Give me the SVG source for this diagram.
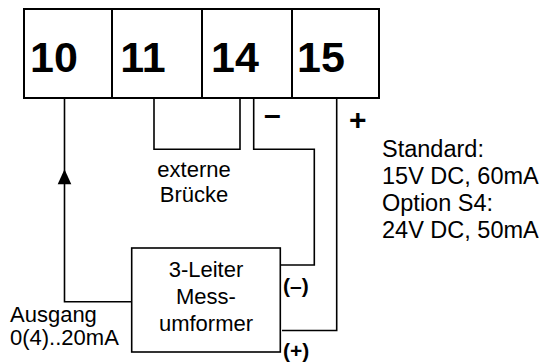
<svg xmlns="http://www.w3.org/2000/svg" width="553" height="363" viewBox="0 0 553 363">
<style>
.box{fill:#fff;stroke:#000;stroke-width:2}
.wire{fill:none;stroke:#000;stroke-width:1.6}
.num{font-family:"Liberation Sans",Arial,sans-serif;font-weight:bold;font-size:43px;fill:#000;text-anchor:middle}
.t{font-family:"Liberation Sans",Arial,sans-serif;font-size:22px;fill:#000}
.r{font-family:"Liberation Sans",Arial,sans-serif;font-size:23.5px;fill:#000}
.b{font-family:"Liberation Sans",Arial,sans-serif;font-weight:bold;font-size:21px;fill:#000}
.sign{font-family:"Liberation Sans",Arial,sans-serif;font-weight:bold;font-size:30px;fill:#000}
</style>
<g id="terminals">
<g id="t10"><rect class="box" x="24" y="9" width="88" height="89"/><text class="num" x="54" y="71.5">10</text></g>
<g id="t11"><rect class="box" x="112" y="9" width="90" height="89"/><text class="num" x="143" y="71.5">11</text></g>
<g id="t14"><rect class="box" x="202" y="9" width="90" height="89"/><text class="num" x="235" y="71.5">14</text></g>
<g id="t15"><rect class="box" x="292" y="9" width="87" height="89"/><text class="num" x="321" y="71.5">15</text></g>
</g>
<g id="connectors">
<path class="wire" d="M64.5 98 V301.7 H131.7"/>
<polygon points="64.5,169.3 57.7,184.3 71.3,184.3" fill="#000"/>
<path class="wire" d="M154 98 V149.3 H240 V98"/>
<path class="wire" d="M253.7 98 V149.3 H314.3 V265 H281"/>
<path class="wire" d="M336.7 98 V330.5 H282"/>
</g>
<g id="transmitter">
<rect class="box" x="131.7" y="248" width="148.6" height="104" style="stroke-width:1.6"/>
<text class="t" text-anchor="middle" x="206" y="277">3-Leiter</text>
<text class="t" text-anchor="middle" x="206" y="304">Mess-</text>
<text class="t" text-anchor="middle" x="206" y="331">umformer</text>
</g>
<g id="labels">
<text class="sign" x="264" y="125.4">–</text>
<text class="sign" x="349" y="130.4">+</text>
<text class="b" x="283" y="293.3">(–)</text>
<text class="b" x="283" y="357.6">(+)</text>
<text class="t" text-anchor="middle" x="194" y="177">externe</text>
<text class="t" text-anchor="middle" x="194" y="202">Brücke</text>
<text class="t" x="10" y="322">Ausgang</text>
<text class="t" x="10" y="345">0(4)..20mA</text>
<text class="r" x="382" y="156.5">Standard:</text>
<text class="r" x="382" y="183.5">15V DC, 60mA</text>
<text class="r" x="382" y="210.5">Option S4:</text>
<text class="r" x="382" y="237.5">24V DC, 50mA</text>
</g>
</svg>
